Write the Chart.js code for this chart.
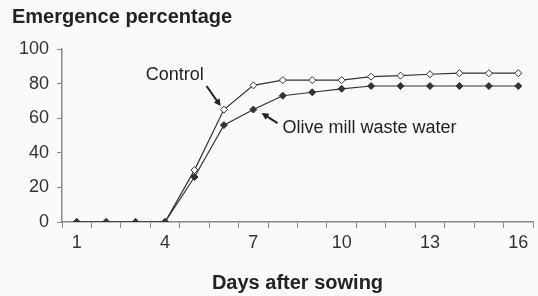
<!DOCTYPE html>
<html>
<head>
<meta charset="utf-8">
<script src="https://cdn.jsdelivr.net/npm/chart.js@4"></script>
<style>
  html, body { margin: 0; padding: 0; background: #fafafa; }
  #wrap { width: 538px; height: 296px; }
</style>
</head>
<body>
<div id="wrap"><canvas id="emergence-chart" width="538" height="296"></canvas></div>
<script>
const days = ['1', '2', '3', '4', '5', '6', '7', '8', '9', '10', '11', '12', '13', '14', '15', '16'];
const control = [0, 0, 0, 0, 30, 65, 79, 82, 82, 82, 84, 84.6, 85.4, 86, 86, 86];
const oliveMill = [0, 0, 0, 0, 26, 56, 65, 73, 75, 77, 78.6, 78.6, 78.6, 78.6, 78.6, 78.6];
const shownDays = ['1', '4', '7', '10', '13', '16'];

// texto e setas, em coordenadas dos eixos (índice do dia, percentagem)
const notes = [
  { text: 'Control', x: 3.33, y: 85, align: 'center', from: [4.41, 78.6], to: [4.89, 67] },
  { text: 'Olive mill waste water', x: 6.99, y: 54.3, align: 'left', from: [6.82, 57.2], to: [6.28, 63] }
];

const annotations = {
  id: 'annotations',
  afterDraw(chart) {
    const { ctx, scales: { x, y }, chartArea } = chart;
    ctx.save();
    ctx.fillStyle = '#222';
    ctx.font = 'bold 20px "Liberation Sans", Arial, sans-serif';
    ctx.textBaseline = 'middle';
    ctx.textAlign = 'left';
    ctx.fillText('Emergence percentage', 12, 17);
    ctx.textAlign = 'center';
    ctx.fillText('Days after sowing', (chartArea.left + chartArea.right) / 2, 283);

    ctx.font = '18px "Liberation Sans", Arial, sans-serif';
    notes.forEach(n => {
      ctx.textAlign = n.align;
      ctx.fillText(n.text, x.getPixelForValue(n.x), y.getPixelForValue(n.y));
      const x1 = x.getPixelForValue(n.from[0]), y1 = y.getPixelForValue(n.from[1]);
      const x2 = x.getPixelForValue(n.to[0]), y2 = y.getPixelForValue(n.to[1]);
      const a = Math.atan2(y2 - y1, x2 - x1);
      ctx.strokeStyle = '#222';
      ctx.lineWidth = 2;
      ctx.beginPath();
      ctx.moveTo(x1, y1);
      ctx.lineTo(x2 - 4 * Math.cos(a), y2 - 4 * Math.sin(a));
      ctx.stroke();
      ctx.beginPath();
      ctx.moveTo(x2, y2);
      ctx.lineTo(x2 - 7 * Math.cos(a) + 3.5 * Math.sin(a), y2 - 7 * Math.sin(a) - 3.5 * Math.cos(a));
      ctx.lineTo(x2 - 7 * Math.cos(a) - 3.5 * Math.sin(a), y2 - 7 * Math.sin(a) + 3.5 * Math.cos(a));
      ctx.closePath();
      ctx.fill();
    });
    ctx.restore();
  }
};

new Chart(document.getElementById('emergence-chart'), {
  type: 'line',
  data: {
    labels: days,
    datasets: [
      {
        label: 'Olive mill waste water',
        data: oliveMill,
        borderColor: '#333',
        borderWidth: 1.2,
        pointStyle: 'rectRot',
        pointRadius: 3.5,
        pointBackgroundColor: '#333',
        pointBorderColor: '#333',
        pointBorderWidth: 1
      },
      {
        label: 'Control',
        data: control,
        borderColor: '#333',
        borderWidth: 1.2,
        pointStyle: 'rectRot',
        pointRadius: 3.5,
        pointBackgroundColor: '#fff',
        pointBorderColor: '#333',
        pointBorderWidth: 1
      }
    ]
  },
  options: {
    responsive: false,
    animation: false,
    layout: { padding: { top: 49, right: 4, left: 0, bottom: 0 } },
    plugins: { legend: { display: false }, tooltip: { enabled: false } },
    scales: {
      x: {
        offset: true,
        afterFit: s => { s.height = 74; },
        grid: { offset: true, drawOnChartArea: false, tickLength: 6, color: '#888' },
        border: { color: '#888', width: 1.5 },
        ticks: {
          autoSkip: false,
          maxRotation: 0,
          padding: 4,
          color: '#333',
          font: { size: 18, family: '"Liberation Sans", Arial, sans-serif' },
          callback: function (v) {
            const l = this.getLabelForValue(v);
            return shownDays.includes(l) ? l : '';
          }
        }
      },
      y: {
        min: 0,
        max: 100,
        afterFit: s => { s.width = 62; },
        grid: { drawOnChartArea: false, tickLength: 5, color: '#888' },
        border: { color: '#888', width: 1.5 },
        ticks: {
          stepSize: 20,
          padding: 8,
          color: '#333',
          font: { size: 18, family: '"Liberation Sans", Arial, sans-serif' }
        }
      }
    }
  },
  plugins: [annotations]
});
</script>
</body>
</html>
